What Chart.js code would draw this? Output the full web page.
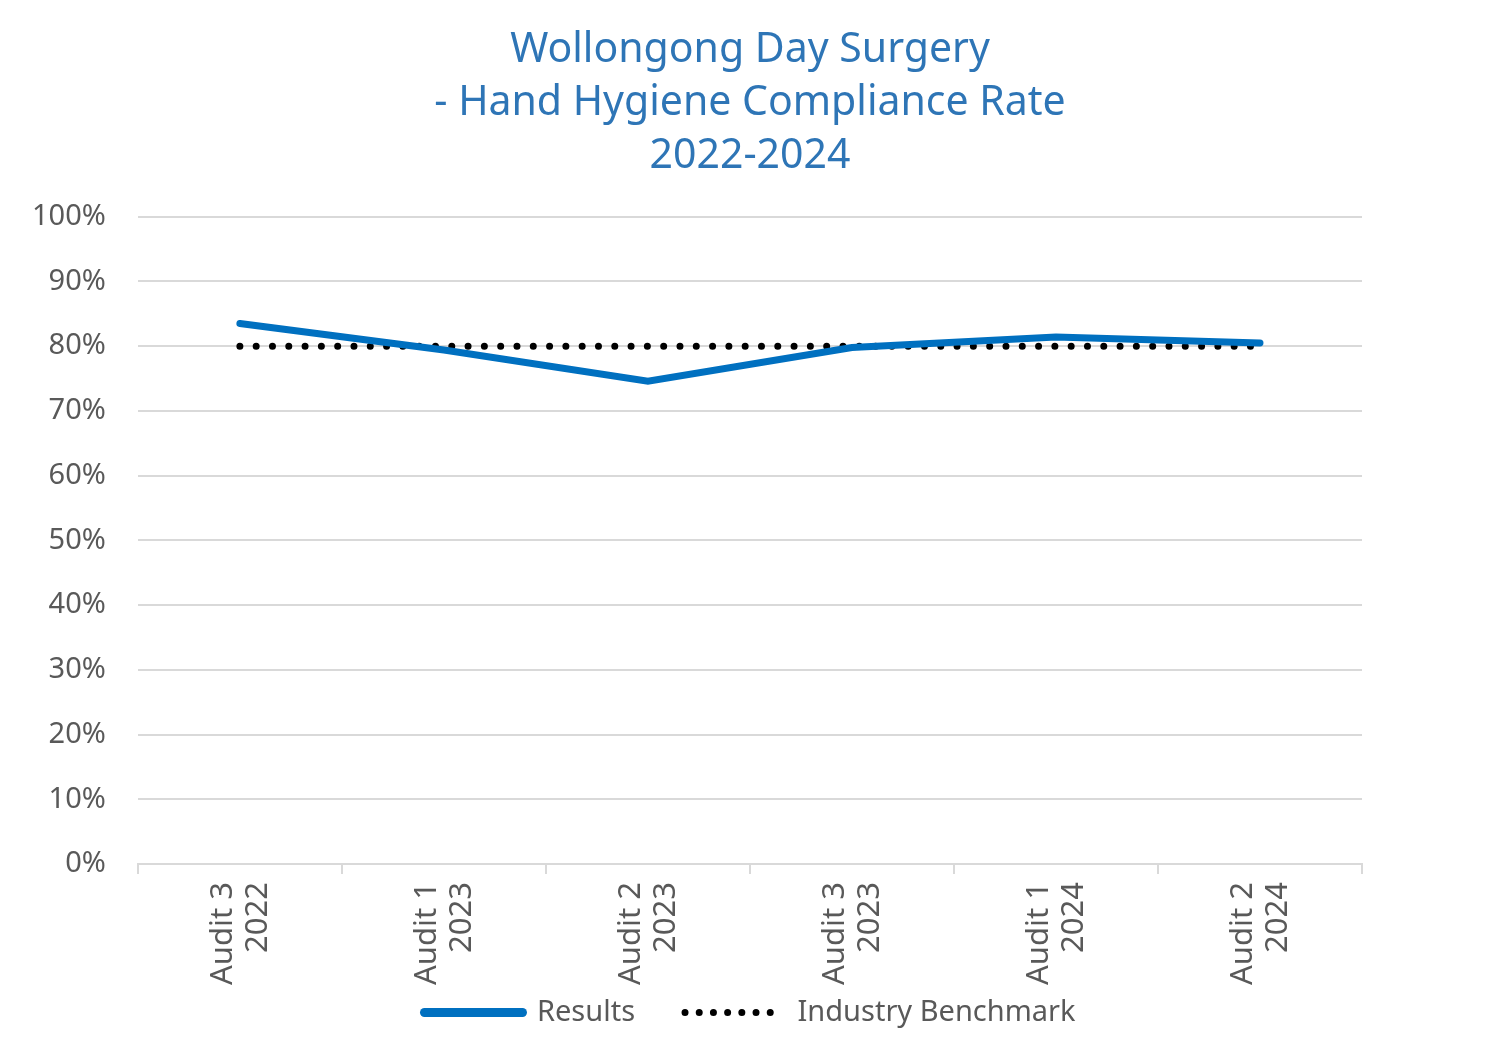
<!DOCTYPE html>
<html>
<head>
<meta charset="utf-8">
<script src="https://cdn.jsdelivr.net/npm/chart.js@4/dist/chart.umd.min.js"></script>
<style>
  html, body { margin: 0; padding: 0; background: #fff; }
  #wrap { width: 1500px; height: 1052px; }
</style>
</head>
<body>
<div id="wrap"><canvas id="hygieneChart" width="1500" height="1052"></canvas></div>
<script>
const labels = [
  ['Audit 3', '2022'],
  ['Audit 1', '2023'],
  ['Audit 2', '2023'],
  ['Audit 3', '2023'],
  ['Audit 1', '2024'],
  ['Audit 2', '2024']
];
const results = [83.5, 79.4, 74.6, 79.8, 81.4, 80.5];
const benchmark = [80, 80, 80, 80, 80, 80];
const titleLines = ['Wollongong Day Surgery', '- Hand Hygiene Compliance Rate', '2022-2024'];

const fontFamily = "'Noto Sans', 'DejaVu Sans', sans-serif";
const grey = '#595959';

// title and legend centred on the whole canvas; x labels may run into the legend gap
const centerBoxes = {
  id: 'centerBoxes',
  beforeDraw(chart) {
    [chart.titleBlock, chart.legend].forEach((b) => {
      if (!b) return;
      b.left = 0;
      b.right = chart.width;
      b.width = chart.width;
    });
    chart.scales.x.bottom = chart.height;
  }
};

const data = {
  labels: labels,
  datasets: [{
    label: 'Results',
    data: results,
    borderColor: '#0070C0',
    backgroundColor: '#0070C0',
    borderWidth: 7,
    borderCapStyle: 'round',
    pointRadius: 0,
    tension: 0
  }, {
    label: 'Industry Benchmark',
    data: benchmark,
    borderColor: '#000000',
    backgroundColor: '#000000',
    borderWidth: 7,
    borderDash: [0, 16.3],
    borderCapStyle: 'round',
    pointRadius: 0,
    tension: 0
  }]
};

const config = {
  type: 'line',
  data: data,
  plugins: [centerBoxes],
  options: {
    responsive: false,
    animation: false,
    layout: { padding: { left: 0, right: 138, top: 24, bottom: 15 } },
    plugins: {
      title: {
        display: true,
        text: titleLines,
        color: '#2E75B6',
        font: { family: fontFamily, size: 41, weight: 'normal', lineHeight: 1.29 },
        padding: { top: 0, bottom: 34 }
      },
      legend: {
        position: 'bottom',
        labels: {
          usePointStyle: true,
          pointStyle: 'line',
          pointStyleWidth: 98,
          boxWidth: 98,
          boxHeight: 7,
          color: grey,
          padding: 50,
          font: { family: fontFamily, size: 29 },
          generateLabels(chart) {
            const items = Chart.defaults.plugins.legend.labels.generateLabels(chart);
            return items.map((item) => {
              const ds = chart.data.datasets[item.datasetIndex];
              const dotted = (ds.borderDash || []).length > 0;
              item.lineWidth = dotted ? 7 : 9;
              item.lineDash = dotted ? [0, 14.2] : [];
              item.lineCap = 'round';
              item.strokeStyle = ds.borderColor;
              item.fillStyle = ds.borderColor;
              item.pointStyle = 'line';
              return item;
            });
          }
        }
      },
      tooltip: { enabled: false }
    },
    scales: {
      x: {
        offset: true,
        afterFit(scale) { scale.height -= 45; },
        grid: {
          display: true,
          offset: true,
          drawOnChartArea: false,
          drawTicks: true,
          tickLength: 10,
          color: '#d9d9d9',
          lineWidth: 2
        },
        border: { display: true, color: '#d9d9d9', width: 2 },
        ticks: {
          color: grey,
          minRotation: 90,
          maxRotation: 90,
          padding: 8,
          labelOffset: -17,
          font: { family: fontFamily, size: 31, lineHeight: 1.13 }
        }
      },
      y: {
        min: 0,
        max: 100,
        grid: { color: '#d9d9d9', lineWidth: 2, drawTicks: false },
        border: { display: false },
        ticks: {
          stepSize: 10,
          color: grey,
          padding: 32,
          font: { family: fontFamily, size: 29 },
          callback: (v) => v + '%'
        }
      }
    }
  }
};

const hygieneChart = new Chart(document.getElementById('hygieneChart'), config);
</script>
</body>
</html>
